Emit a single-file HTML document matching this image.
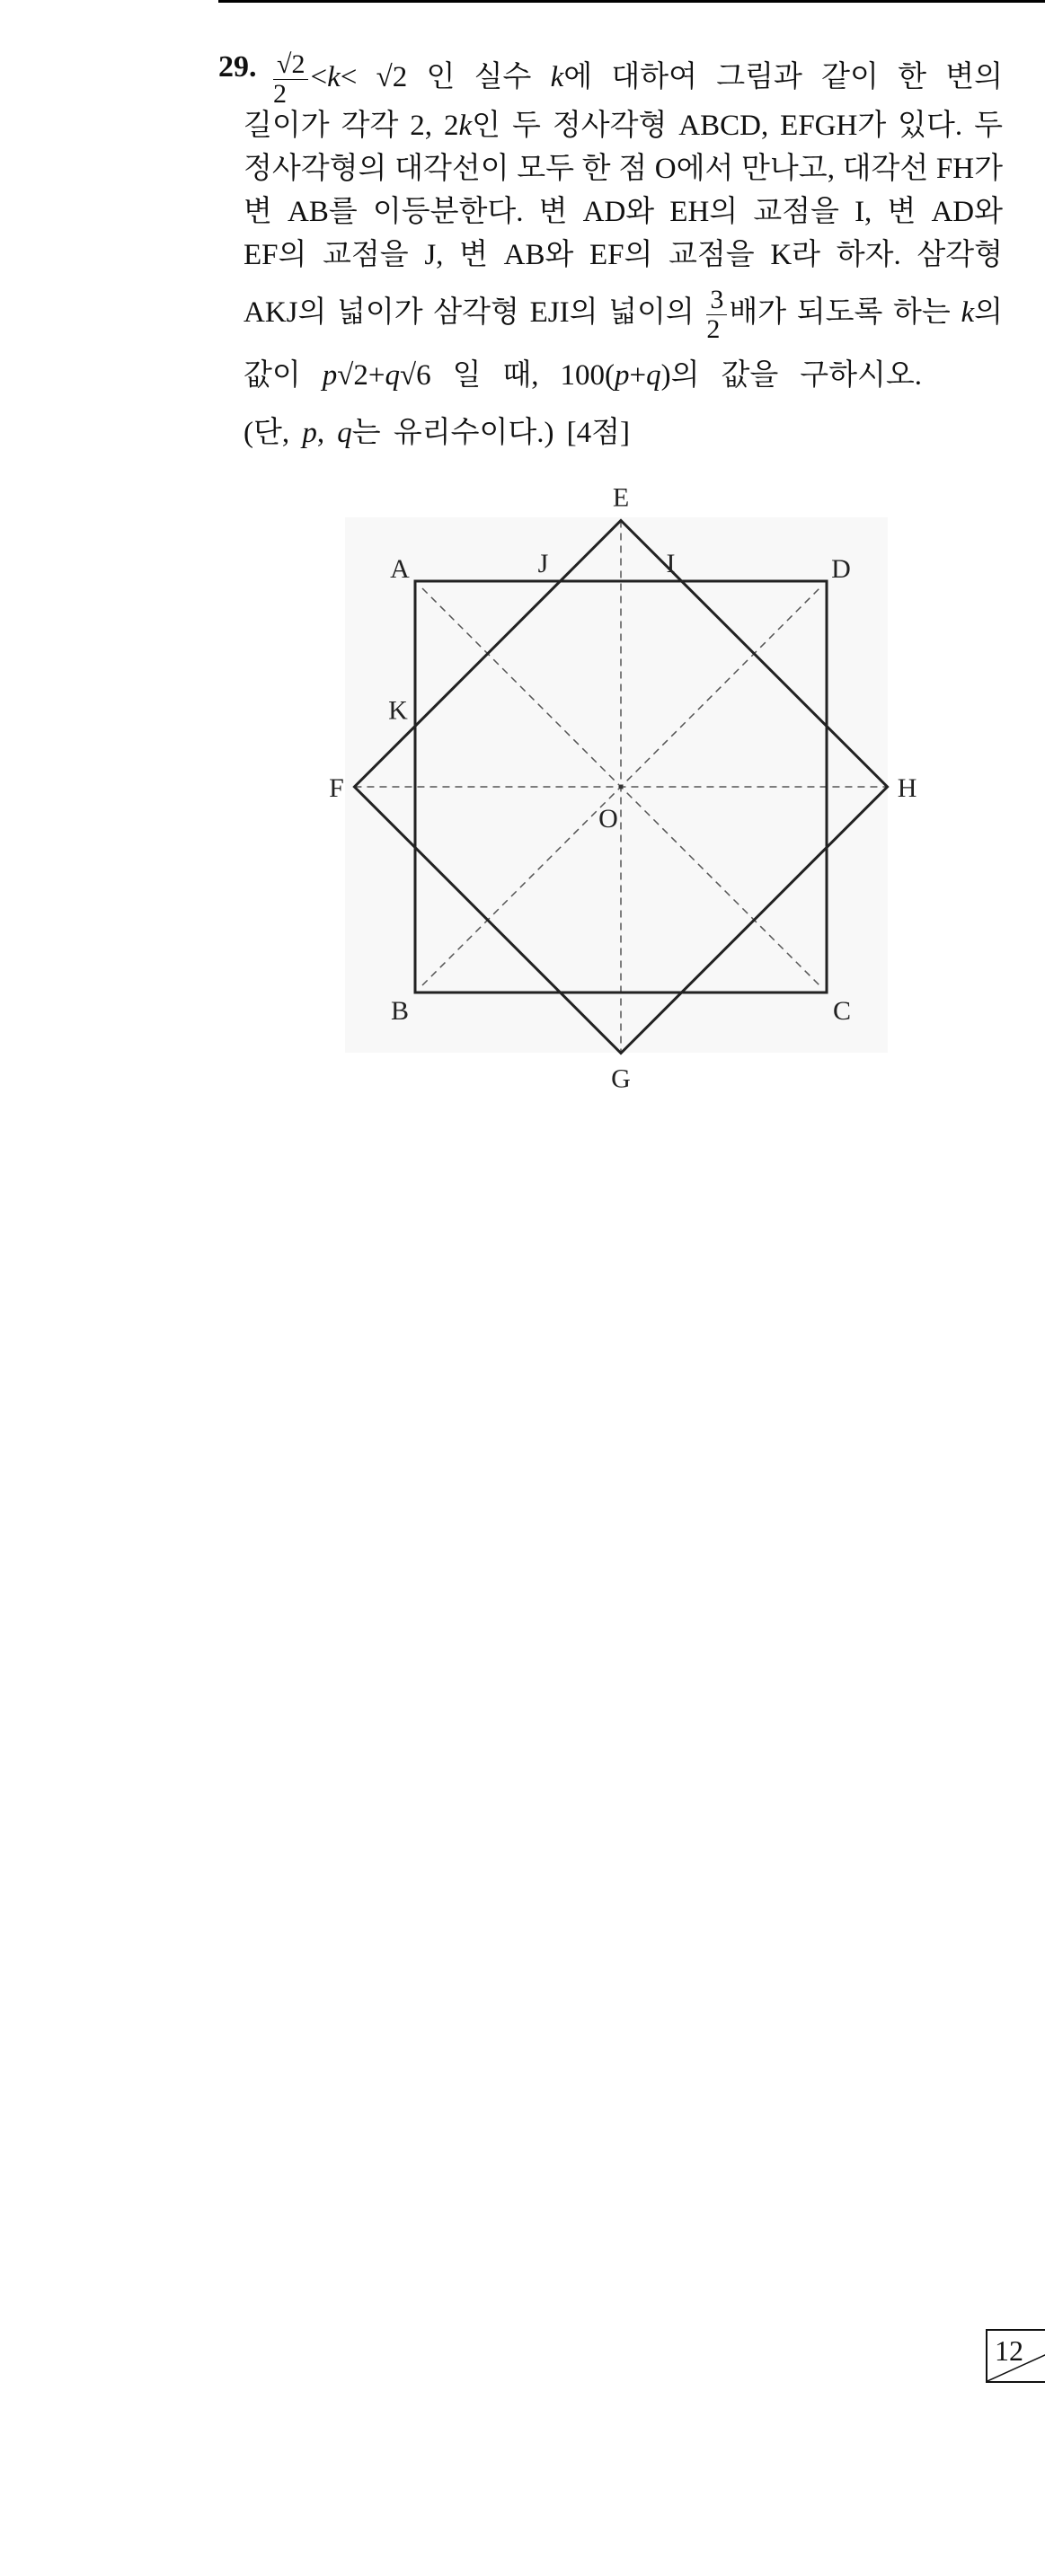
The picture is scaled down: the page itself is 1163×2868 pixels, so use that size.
<!DOCTYPE html>
<html><head><meta charset="utf-8"><style>
html,body{margin:0;padding:0;background:#fff;}
body{width:1163px;height:2868px;position:relative;overflow:hidden;font-family:"Liberation Serif","Noto Serif CJK SC",serif;color:#111;}
.ln{position:absolute;left:271px;width:845px;font-size:33px;line-height:34px;white-space:nowrap;text-align:justify;text-align-last:justify;}
.frac{display:inline-block;vertical-align:middle;text-align:center;line-height:32px;margin:0 2px;font-size:30px;}
.frac span{display:block;}
.frac .num{border-bottom:1.5px solid #111;padding:0 4px;}
i{font-style:italic;}
.lbl{font-family:"Liberation Serif",serif;font-size:30px;fill:#222;text-anchor:middle;}
</style></head><body>
<div style="position:absolute;left:243px;top:0;width:920px;height:3px;background:#000;"></div>
<div style="position:absolute;left:243px;top:58px;font-size:34px;font-weight:bold;line-height:34px;">29.</div>
<div class="ln" style="top:56px;left:302px;width:814px;"><span class="frac"><span class="num">√2</span><span>2</span></span>&lt;<i>k</i>&lt; √2 인 실수 <i>k</i>에 대하여 그림과 같이 한 변의</div>
<div class="ln" style="top:123px;">길이가 각각 2, 2<i>k</i>인 두 정사각형 ABCD, EFGH가 있다. 두</div>
<div class="ln" style="top:171px;">정사각형의 대각선이 모두 한 점 O에서 만나고, 대각선 FH가</div>
<div class="ln" style="top:219px;">변 AB를 이등분한다. 변 AD와 EH의 교점을 I, 변 AD와</div>
<div class="ln" style="top:267px;">EF의 교점을 J, 변 AB와 EF의 교점을 K라 하자. 삼각형</div>
<div class="ln" style="top:318px;">AKJ의 넓이가 삼각형 EJI의 넓이의 <span class="frac"><span class="num">3</span><span>2</span></span>배가 되도록 하는 <i>k</i>의</div>
<div class="ln" style="top:401px;width:755px;">값이 <i>p</i>√2+<i>q</i>√6 일 때, 100(<i>p</i>+<i>q</i>)의 값을 구하시오.</div>
<div class="ln" style="top:465px;width:430px;">(단, <i>p</i>, <i>q</i>는 유리수이다.) [4점]</div>

<svg style="position:absolute;left:0;top:0" width="1163" height="1250">
<rect x="384" y="576" width="604" height="596" fill="#f8f8f8"/>
<g id="fig"></g>
</svg>

<div style="position:absolute;left:1097px;top:2593px;width:70px;height:60px;border:2px solid #111;box-sizing:border-box;">
<div style="position:absolute;left:8px;top:6px;font-size:32px;line-height:32px;">12</div>
<svg style="position:absolute;left:0;top:0" width="66" height="56"><line x1="0" y1="56" x2="66" y2="26" stroke="#111" stroke-width="1.5"/></svg>
</div>

<script>
const cx = 691, cy = 876, half = 229;
const kRatio = [1.295];
const squareLabels = ['A','B','C','D'];
const rhombusLabels = ['E','F','G','H'];
const g = document.getElementById('fig');
const NS = 'http://www.w3.org/2000/svg';
function mk(tag, attrs){const e=document.createElementNS(NS,tag);for(const k in attrs)e.setAttribute(k,attrs[k]);g.appendChild(e);return e;}
const A=[cx-half,cy-half],B=[cx-half,cy+half],C=[cx+half,cy+half],D=[cx+half,cy-half];
const r = half*kRatio[0];
const E=[cx,cy-r],F=[cx-r,cy],G=[cx,cy+r],H=[cx+r,cy];
const ds={stroke:'#555','stroke-width':1.5,'stroke-dasharray':'8,6',fill:'none'};
const inset=8;
let l;
l=mk('line',Object.assign({x1:A[0]+inset,y1:A[1]+inset,x2:C[0]-inset,y2:C[1]-inset},ds));


l=mk('line',Object.assign({x1:B[0]+inset,y1:B[1]-inset,x2:D[0]-inset,y2:D[1]+inset},ds));


l=mk('line',Object.assign({x1:E[0],y1:E[1],x2:G[0],y2:G[1]},ds));


l=mk('line',Object.assign({x1:F[0],y1:F[1],x2:H[0],y2:H[1]},ds));


const sq=mk('polygon',{points:[A,B,C,D].map(p=>p.join(',')).join(' '),fill:'none',stroke:'#222','stroke-width':3});


const rh=mk('polygon',{points:[E,F,G,H].map(p=>p.join(',')).join(' '),fill:'none',stroke:'#222','stroke-width':3});


const dot=mk('circle',{cx:cx,cy:cy,r:2.5,fill:'#333'});


const yt=cy-half;
const xJ=cx-(r-half), xI=cx+(r-half), yK=cy-(r-half);
const labels=[
 [squareLabels[0],A[0]-17,A[1]-4],[squareLabels[1],B[0]-17,B[1]+30],[squareLabels[2],C[0]+17,C[1]+30],[squareLabels[3],D[0]+16,D[1]-4],
 [rhombusLabels[0],E[0],E[1]-16],[rhombusLabels[1],F[0]-20,F[1]+11],[rhombusLabels[2],G[0],G[1]+38],[rhombusLabels[3],H[0]+22,H[1]+11],
 ['J',xJ-19,yt-10],['I',xI-12,yt-10],['K',A[0]-19,yK-8],['O',cx-14,cy+45]];
for(const [t,x,y] of labels){
 const e=mk('text',{x:x,y:y,class:'lbl'});
 e.textContent=t;
 
 
}
</script>
</body></html>
